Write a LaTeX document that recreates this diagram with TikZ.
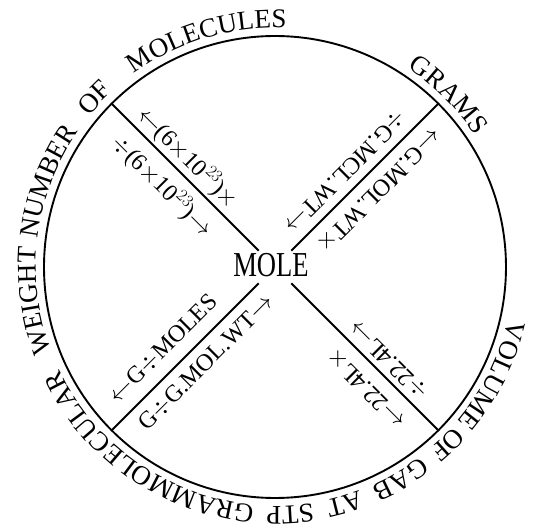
\documentclass[tikz,border=0pt]{standalone}
\usepackage{fontspec}
\setmainfont{Liberation Serif}
\usetikzlibrary{calc,decorations.text}
\tikzset{
  ring/.style={line width=1.9pt},
  spoke/.style={line width=1.9pt},
  lab/.style={font=\fontsize{24pt}{24pt}\selectfont, inner sep=0pt},
  centrelab/.style={font=\fontsize{35pt}{35pt}\selectfont, inner sep=0pt},
}
\newcommand{\outerfont}{\fontsize{27pt}{27pt}\selectfont}
\newcommand{\arcword}[2]{%
  \path[decorate, decoration={text along path, text={|\outerfont|#2}, text align={align=center}}]
    (#1+50:239pt) arc[start angle=#1+50, end angle=#1-50, radius=239pt];}
\begin{document}
\begin{tikzpicture}
\useasboundingbox (-275pt,-263pt) rectangle (267pt,267pt);
\coordinate (c) at (0pt,0pt);
\draw[ring] (c) circle[radius=231pt];
% spokes
\foreach \a/\n in {45/ne,135/nw,225/sw,315/se}{
  \coordinate (i\n) at (\a:23pt);
  \coordinate (o\n) at (\a:231pt);
  \draw[spoke] (i\n) -- (o\n);
}
\node[centrelab] (mole) at (-4pt,2pt) {\scalebox{0.76}[1]{MOLE}};
% labels along spokes
\node[lab, rotate=-45] (a1) at ($(135:139pt)+(45:16pt)$) {$\leftarrow$(6$\times$10$^{23}$)$\times$};
\node[lab, rotate=-45] (a2) at ($(135:137pt)+(225:22pt)$) {$\div$(6$\times$10$^{23}$)$\rightarrow$};
\node[lab, rotate=225] (b1) at ($(45:117pt)+(135:18pt)$) {$\div$G.MCL.WT$\rightarrow$};
\node[lab, rotate=225] (b2) at ($(45:128pt)+(-45:19pt)$) {$\leftarrow$G.MOL.WT$\times$};
\node[lab, rotate=45] (c1) at ($(225:137pt)+(135:21pt)$) {$\leftarrow$G$\div$MOLES};
\node[lab, rotate=45] (c2) at ($(225:116pt)+(-45:19pt)$) {G$\div$G.MOL.WT$\rightarrow$};
\node[lab, rotate=135] (d1) at ($(315:146pt)+(45:15pt)$) {$\div$22.4L$\rightarrow$};
\node[lab, rotate=135] (d2) at ($(315:151pt)+(225:21pt)$) {$\leftarrow$22.4L$\times$};
% outer words
\arcword{44.8}{GRAMS}
\arcword{106.7}{MOLECULES}
\arcword{136.9}{OF}
\arcword{159.3}{NUMBER}
\arcword{188}{WEIGHT}
\arcword{235.2}{GRAMMOLECULAR}
\arcword{273.5}{STP}
\arcword{286.5}{AT}
\arcword{300.6}{GAB}
\arcword{314.2}{OF}
\arcword{333.5}{VOLUME}
\end{tikzpicture}
\end{document}
